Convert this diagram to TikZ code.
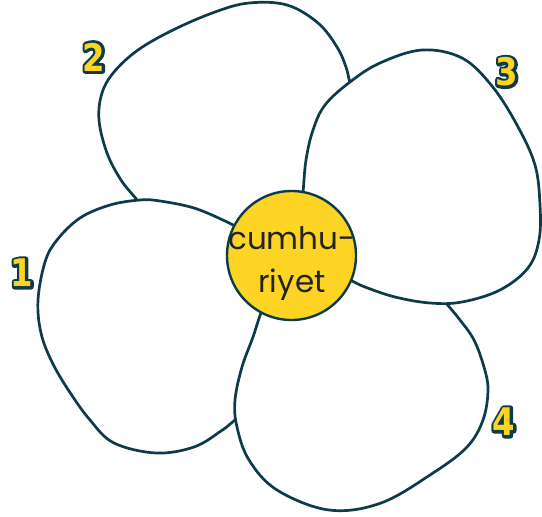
\documentclass[tikz,border=0pt]{standalone}
\usepackage{fontspec}
\setmainfont{Poppins}
\newfontfamily\digitfont{DejaVu Sans}[FakeStretch=0.85]
\usetikzlibrary{positioning}

\definecolor{ink}{RGB}{14,59,74}
\definecolor{pollen}{RGB}{253,212,35}
\definecolor{wordgray}{RGB}{35,35,35}

% yellow digit with a dark rim behind it
\newcommand{\rimdigit}[1]{{\color{ink}\special{pdf:literal direct 1 j 5.5 w 2 Tr}\rlap{#1}\special{pdf:literal direct 0 Tr}}#1}

\begin{document}
\begin{tikzpicture}[
    x=1pt, y=-1pt,
    petal/.style={
        draw=ink,
        fill=white,
        line width=2.7pt,
        line cap=round,
        line join=round
    },
    hub/.style={
        circle,
        draw=ink,
        fill=pollen,
        line width=2.4pt,
        minimum size=129pt,
        inner sep=0pt
    },
    word/.style={
        font=\fontsize{31}{43}\selectfont,
        text=wordgray,
        align=center,
        inner sep=0pt
    },
    num/.style={
        font=\digitfont\bfseries\fontsize{38}{38}\selectfont,
        text=pollen,
        inner sep=0pt
    }
]
\useasboundingbox (0,0) rectangle (542,517);

% Petal 2 (top left, lowest)
\draw[petal] plot[smooth, tension=0.6] coordinates {(141,208) (137,200) (121,180) (107,153) (99,120) (102,93) (114,72) (138,50) (173,30) (215,12) (249,3) (287,5) (318,23) (337,47) (346,67) (350,82) (356,90)}
    -- (320,185) -- (270,240) -- (195,220) -- cycle;

% Petal 1 (left)
\draw[petal] plot[smooth, tension=0.6] coordinates {(240,229) (225,221) (194,208) (160,201) (140,200) (110,205) (80,218) (57,240) (45,262) (38,300) (41,333) (52,362) (69,391) (90,420) (114,443) (156,453) (194,447) (221,431) (235,420) (248,410)}
    -- (280,300) -- cycle;

% Petal 4 (bottom)
\draw[petal] plot[smooth, tension=0.6] coordinates {(268,302) (261,313) (253,337) (242,367) (235,400) (237,427) (249,460) (277,490) (329,510) (381,503) (433,473) (467,447) (483,420) (488,390) (484,367) (474,340) (460,320) (446,303) (438,293)}
    -- (330,262) -- cycle;

% Petal 3 (top right, on top)
\draw[petal] plot[smooth, tension=0.6] coordinates {(301,200) (303,192) (306,160) (313,130) (325,105) (350,82) (380,63) (422,50) (462,58) (492,86) (517,125) (535,165) (540,205) (539,240) (528,268) (500,290) (462,302) (430,303) (395,297) (365,287) (350,280) (340,276)}
    -- cycle;

% Centre of the flower
\node[hub] (hub) at (291.5,255.5) {};
\node[word] (word) at (292,264) {cumhu-\\riyet};

% Petal numbers
\node[num] (num1) at (22,273) {\rimdigit{1}};
\node[num] (num2) at (94,57) {\rimdigit{2}};
\node[num] (num3) at (507,72) {\rimdigit{3}};
\node[num] (num4) at (504,422) {\rimdigit{4}};

\end{tikzpicture}
\end{document}
